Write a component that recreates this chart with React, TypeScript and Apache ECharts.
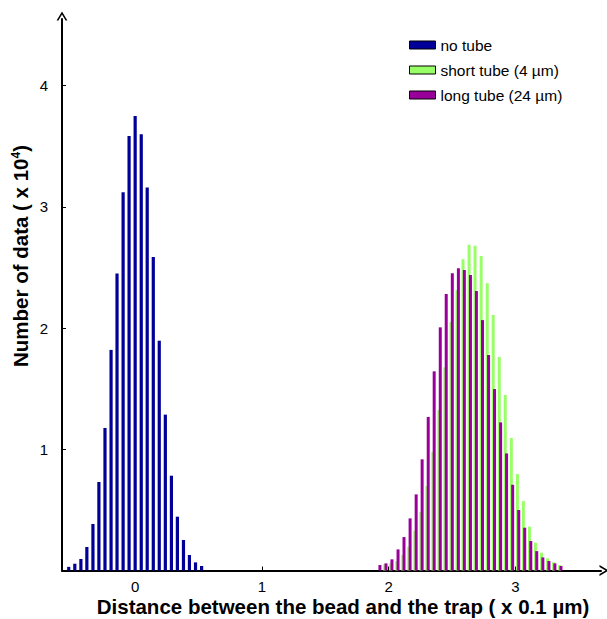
import React, { useEffect, useRef } from "react";
import * as echarts from "echarts";

// no tube histogram (bin centres, x 0.1 µm) and counts (x 10^4)
const noTubeX = [-0.524, -0.476, -0.428, -0.381, -0.333, -0.286, -0.238, -0.19, -0.143, -0.095, -0.048, 0,
  0.048, 0.095, 0.143, 0.19, 0.238, 0.286, 0.333, 0.381, 0.428, 0.476, 0.524];
const noTubeY = [0.03, 0.056, 0.095, 0.194, 0.384, 0.73, 1.176, 1.82, 2.45, 3.12, 3.585, 3.75,
  3.6, 3.16, 2.587, 1.896, 1.286, 0.782, 0.444, 0.252, 0.128, 0.067, 0.037];

// tube histograms share bin centres
const tubeX = [1.925, 1.973, 2.02, 2.068, 2.115, 2.163, 2.211, 2.258, 2.306, 2.353, 2.401, 2.448, 2.496,
  2.544, 2.591, 2.639, 2.686, 2.734, 2.782, 2.829, 2.877, 2.924, 2.972, 3.02, 3.067, 3.115, 3.162, 3.21,
  3.258, 3.305, 3.353];
const shortTubeY = [0, 0.051, 0.059, 0.078, 0.128, 0.197, 0.329, 0.483, 0.697, 0.978, 1.324, 1.676, 2.05,
  2.314, 2.567, 2.688, 2.68, 2.595, 2.369, 2.108, 1.762, 1.448, 1.093, 0.796, 0.573, 0.362, 0.23, 0.147,
  0.1, 0.067, 0.045];
const longTubeY = [0.045, 0.059, 0.092, 0.174, 0.276, 0.43, 0.628, 0.917, 1.267, 1.643, 2.006, 2.281, 2.452,
  2.493, 2.479, 2.438, 2.306, 2.066, 1.778, 1.497, 1.222, 0.966, 0.708, 0.499, 0.353, 0.243, 0.16, 0.108,
  0.078, 0.059, 0.037];

const xTicks = [0, 1, 2, 3];
const yTicks = [1, 2, 3, 4];
const seriesNames = ["no tube", "short tube (4 µm)", "long tube (24 µm)"];

const FONT = "'Liberation Sans', Arial, sans-serif";
const ARROW = "path://M0,10 L6,0 L12,10 L10,10 L6,3.2 L2,10 Z";

export default function App() {
  const ref = useRef<HTMLDivElement>(null);
  useEffect(() => {
    if (!ref.current) return;
    const chart = echarts.init(ref.current, null, { renderer: "svg" });
    const xMin = -0.577;
    const xMax = 3.674;
    const axisLine = {
      show: true,
      onZero: false,
      lineStyle: { color: "#000", width: 2 },
      symbol: ["none", ARROW],
      symbolSize: [12, 9],
      symbolOffset: [0, 3],
    };
    chart.setOption({
      animation: false,
      backgroundColor: "#fff",
      textStyle: { fontFamily: FONT },
      grid: { left: 62, right: 6, top: 19, bottom: 48.5 },
      legend: {
        orient: "vertical",
        left: 409,
        top: 37,
        padding: 0,
        itemWidth: 26,
        itemHeight: 8,
        itemGap: 9,
        icon: "rect",
        itemStyle: { borderColor: "#000", borderWidth: 1 },
        textStyle: { fontSize: 15.5, color: "#000", fontFamily: FONT },
        data: seriesNames,
      },
      xAxis: [
        {
          type: "value",
          min: xMin,
          max: xMax,
          axisLine,
          axisTick: { show: true, inside: true, length: 4, lineStyle: { color: "#000", width: 1 }, customValues: xTicks },
          axisLabel: { fontSize: 15, color: "#000", margin: 8, fontFamily: FONT, customValues: xTicks },
          splitLine: { show: false },
        },
        {
          type: "value",
          min: xMin,
          max: xMax,
          show: false,
          splitLine: { show: false },
        },
      ],
      yAxis: {
        type: "value",
        min: 0,
        max: 4.55,
        axisLine,
        axisTick: { show: true, inside: true, length: 4, lineStyle: { color: "#000", width: 1 }, customValues: yTicks },
        axisLabel: { fontSize: 15, color: "#000", margin: 14, fontFamily: FONT, customValues: yTicks },
        splitLine: { show: false },
      },
      series: [
        {
          name: seriesNames[0],
          type: "bar",
          xAxisIndex: 1,
          barWidth: 3.2,
          itemStyle: { color: "#000099" },
          data: noTubeX.map((x, i) => [x, noTubeY[i]]),
        },
        {
          name: seriesNames[1],
          type: "bar",
          xAxisIndex: 0,
          barWidth: 3,
          barGap: "-55%",
          itemStyle: { color: "#99ff66" },
          data: tubeX.map((x, i) => [x, shortTubeY[i]]),
        },
        {
          name: seriesNames[2],
          type: "bar",
          xAxisIndex: 0,
          barWidth: 3,
          barGap: "-55%",
          itemStyle: { color: "#990099" },
          data: tubeX.map((x, i) => [x, longTubeY[i]]),
        },
      ],
      graphic: [
        {
          type: "text",
          x: 20,
          y: 256,
          rotation: Math.PI / 2,
          style: {
            text: "Number of data ( x 10{sup|4})",
            fontSize: 20.5,
            fontWeight: "bold",
            fontFamily: FONT,
            fill: "#000",
            align: "center",
            verticalAlign: "middle",
            rich: {
              sup: { fontSize: 12, fontWeight: "bold", fontFamily: FONT, verticalAlign: "top", padding: [0, 0, 8, 0] },
            },
          },
        },
        {
          type: "text",
          x: 343,
          y: 606,
          style: {
            text: "Distance between the bead and the trap ( x 0.1 µm)",
            fontSize: 20.5,
            fontWeight: "bold",
            fontFamily: FONT,
            fill: "#000",
            align: "center",
            verticalAlign: "middle",
          },
        },
      ],
    });
    return () => chart.dispose();
  }, []);
  return <div ref={ref} style={{ position: "fixed", left: 0, top: 0, width: 607, height: 619 }} />;
}
